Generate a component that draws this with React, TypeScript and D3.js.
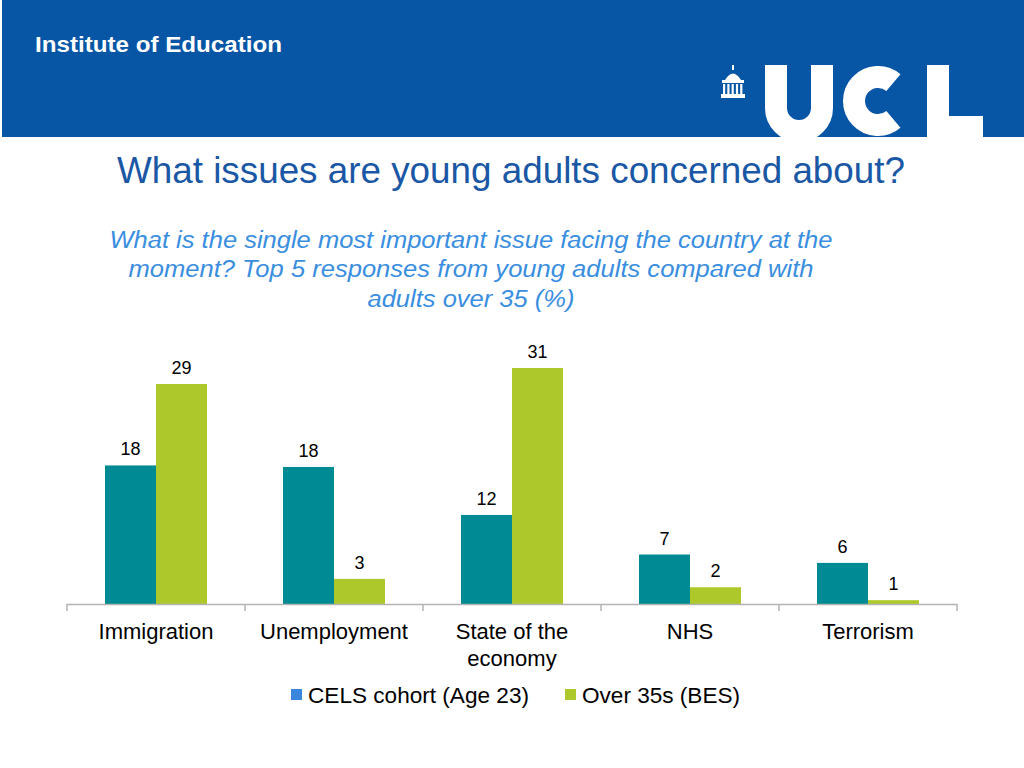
import React from "react";
import * as d3 from "d3";

const categories = ["Immigration", "Unemployment", "State of the economy", "NHS", "Terrorism"];
const categoryLines = [["Immigration"], ["Unemployment"], ["State of the", "economy"], ["NHS"], ["Terrorism"]];
const celsValues = [18.2, 18, 11.7, 6.5, 5.4];
const besValues = [28.9, 3.3, 31, 2.2, 0.5];
const celsLabels = [18, 18, 12, 7, 6];
const besLabels = [29, 3, 31, 2, 1];
const seriesNames = ["CELS cohort (Age 23)", "Over 35s (BES)"];

const W = 1024;
const H = 768;
const TEAL = "#008a94";
const GREEN = "#adc82b";
const FONT = "'Liberation Sans', Arial, Helvetica, sans-serif";

export default function App() {
  const x = d3.scaleBand<string>().domain(categories).range([67, 957]).padding(0);
  const y = d3.scaleLinear().domain([0, 31]).range([604, 368]);
  const barW = 51;
  const series = [
    { name: seriesNames[0], values: celsValues, labels: celsLabels, color: TEAL, offset: -barW },
    { name: seriesNames[1], values: besValues, labels: besLabels, color: GREEN, offset: 0 },
  ];
  const ticks = [...categories.map((c) => x(c) as number), 957];
  const subtitle = [
    { t: "What is the single most important issue facing the country at the", w: 723 },
    { t: "moment? Top 5 responses from young adults compared with", w: 685 },
    { t: "adults over 35 (%)", w: 207 },
  ];

  // C of the logo
  const cC = { x: 878, y: 101, r: 24 };
  const a = (50 * Math.PI) / 180;
  const cPath = `M ${cC.x + cC.r * Math.cos(a)} ${cC.y - cC.r * Math.sin(a)} A ${cC.r} ${cC.r} 0 1 0 ${
    cC.x + cC.r * Math.cos(a)
  } ${cC.y + cC.r * Math.sin(a)}`;

  return (
    <svg width={W} height={H} style={{ position: "absolute", left: 0, top: 0, background: "#fff" }} fontFamily={FONT}>
      {/* header banner */}
      <rect x={2} y={0} width={W - 2} height={137} fill="#0755a5" />
      <text x={35} y={52} fill="#fff" fontSize={22} fontWeight="bold" textLength={247} lengthAdjust="spacingAndGlyphs">
        Institute of Education
      </text>
      <clipPath id="bannerClip">
        <rect x={0} y={0} width={W} height={137} />
      </clipPath>
      <g clipPath="url(#bannerClip)" fill="none" stroke="#fff" strokeWidth={22}>
        <path d="M 776 65 V 108 A 23 23 0 0 0 822 108 V 65" />
        <path d={cPath} />
        <rect x={927} y={65} width={22} height={75} fill="#fff" stroke="none" />
        <rect x={927} y={116} width={56} height={24} fill="#fff" stroke="none" />
      </g>
      {/* building icon */}
      <g fill="#fff">
        <rect x={732} y={65} width={2} height={5} />
        <path d="M 725 80 Q 733 67 741 80 Z" />
        <rect x={722} y={80} width={22} height={3} />
        {[0, 1, 2, 3, 4].map((i) => (
          <rect key={i} x={723 + i * 4.3} y={84} width={2.2} height={10} />
        ))}
        <rect x={721} y={94} width={24} height={4} />
      </g>

      {/* titles */}
      <text x={511} y={183} textAnchor="middle" fill="#1a57a5" fontSize={36} textLength={788} lengthAdjust="spacingAndGlyphs">
        What issues are young adults concerned about?
      </text>
      {subtitle.map((s, i) => (
        <text
          key={i}
          x={471}
          y={248 + i * 29.3}
          textAnchor="middle"
          fill="#3a8ee0"
          fontSize={24.5}
          fontStyle="italic"
          textLength={s.w}
          lengthAdjust="spacingAndGlyphs"
        >
          {s.t}
        </text>
      ))}

      {/* bars */}
      {series.map((s) => (
        <g key={s.name}>
          {categories.map((c, i) => {
            const cx = (x(c) as number) + x.bandwidth() / 2;
            const v = s.values[i];
            return (
              <g key={c}>
                <rect x={cx + s.offset} y={y(v)} width={barW} height={y(0) - y(v)} fill={s.color} />
                <text x={cx + s.offset + barW / 2} y={y(v) - 10} textAnchor="middle" fontSize={18} fill="#000">
                  {s.labels[i]}
                </text>
              </g>
            );
          })}
        </g>
      ))}

      {/* axis */}
      <line x1={67} x2={957} y1={604.5} y2={604.5} stroke="#b3b3b3" strokeWidth={1.5} />
      {ticks.map((t, i) => (
        <line key={i} x1={t} x2={t} y1={604} y2={611} stroke="#b3b3b3" strokeWidth={1.5} />
      ))}
      {categories.map((c, i) => (
        <text key={c} x={(x(c) as number) + x.bandwidth() / 2} textAnchor="middle" fontSize={22} fill="#000">
          {categoryLines[i].map((line, j) => (
            <tspan key={j} x={(x(c) as number) + x.bandwidth() / 2} y={639 + j * 26.5}>
              {line}
            </tspan>
          ))}
        </text>
      ))}

      {/* legend */}
      <rect x={291} y={689} width={11} height={11} fill="#3a86dc" />
      <text x={308} y={703} fontSize={21.5} fill="#000" textLength={221} lengthAdjust="spacingAndGlyphs">
        {seriesNames[0]}
      </text>
      <rect x={565} y={689} width={11} height={11} fill={GREEN} />
      <text x={582} y={703} fontSize={21.5} fill="#000" textLength={158} lengthAdjust="spacingAndGlyphs">
        {seriesNames[1]}
      </text>
    </svg>
  );
}
